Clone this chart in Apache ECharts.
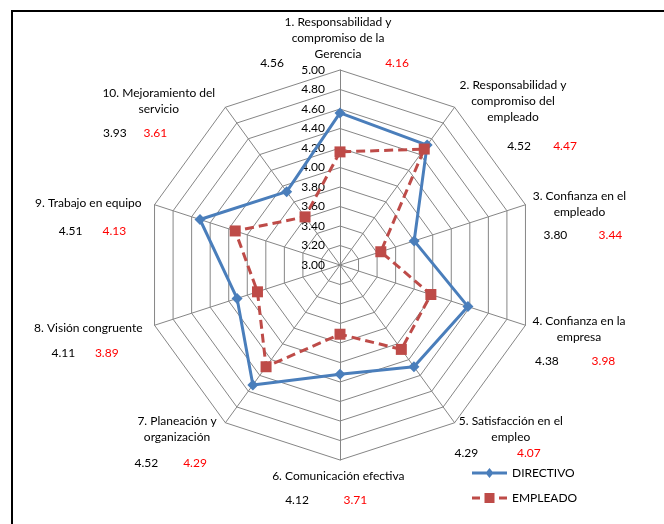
<!DOCTYPE html>
<html>
<head>
<meta charset="utf-8">
<script src="https://cdn.jsdelivr.net/npm/echarts@6/dist/echarts.min.js"></script>
<style>
  html, body { margin: 0; padding: 0; background: #ffffff; }
  #chart { width: 664px; height: 524px; }
</style>
</head>
<body>
<div id="chart"></div>
<script>
// Indicator labels (one per spoke, clockwise from the top)
const indicatorNames = [
  '1. Responsabilidad y\ncompromiso de la\nGerencia',
  '2. Responsabilidad y\ncompromiso del\nempleado',
  '3. Confianza en el\nempleado',
  '4. Confianza en la\nempresa',
  '5. Satisfacción en el\nempleo',
  '6. Comunicación efectiva',
  '7. Planeación y\norganización',
  '8. Visión congruente',
  '9. Trabajo en equipo',
  '10. Mejoramiento del\nservicio'
];

// Average scores per group
const directivo = [4.56, 4.52, 3.80, 4.38, 4.29, 4.12, 4.52, 4.11, 4.51, 3.93];
const empleado  = [4.16, 4.47, 3.44, 3.98, 4.07, 3.71, 4.29, 3.89, 4.13, 3.61];
const seriesNames = ['DIRECTIVO', 'EMPLEADO'];

// Scale of every spoke
const scaleMin = 3.0;
const scaleMax = 5.0;
const scaleSplits = 10;

// Label placement around each spoke end:
// [shiftX, shiftY, valueLineHeight, directivoOffsetX, empleadoOffsetX]
const labelLayout = [
  [-2, -30.5, 2, -66, 59],
  [58.4, 15.3, 42, 6, 52],
  [54, 14.3, 30.6, -24, 31],
  [53.5, 19.4, 32, -32, 24.5],
  [56.2, 14.8, 17.2, -44.5, 18],
  [-1.7, 32, 32.6, -41.3, 17],
  [-48.4, 24.2, 36, -30.7, 18],
  [-66.2, 19.4, 32.8, -25, 18.4],
  [-66.2, 18.7, 40.8, -17.8, 26],
  [-66.6, 10.1, 32, -44, -3.5]
];

const BLUE = '#4A7EBB';
const RED = '#BE4B48';
const FONT = 'Lato';

const rich = {
  n: { color: '#000', fontFamily: FONT, fontSize: 12, lineHeight: 16, align: 'center' }
};
const VALUE_W = 30;

function spacer(key, w) {
  rich[key] = { width: w, lineHeight: 1, fontSize: 12, fontFamily: FONT, align: 'center' };
  return '{' + key + '| }';
}

function buildLabel(idx) {
  const [dx, dy, lv, o1, o2] = labelLayout[idx];
  const sx = Math.abs(dx) > 0.5 ? spacer('sx' + idx, 2 * Math.abs(dx)) : '';
  const withShift = (s) => dx >= 0 ? sx + s : s + sx;

  const lines = indicatorNames[idx].split('\n').map(l => withShift('{n|' + l + '}'));

  const m = Math.max(Math.abs(o1), Math.abs(o2)) + VALUE_W / 2;
  const a = o1 - VALUE_W / 2 + m;
  const b = o2 - o1 - VALUE_W;
  const c = m - o2 - VALUE_W / 2;
  rich['d' + idx] = { color: '#000', fontFamily: FONT, fontSize: 12, lineHeight: lv, width: VALUE_W, align: 'center' };
  rich['e' + idx] = { color: '#FF0000', fontFamily: FONT, fontSize: 12, lineHeight: lv, width: VALUE_W, align: 'center' };
  let vline = '';
  if (a > 0.5) vline += spacer('va' + idx, a);
  vline += '{d' + idx + '|' + directivo[idx].toFixed(2) + '}';
  if (b > 0.5) vline += spacer('vb' + idx, b);
  vline += '{e' + idx + '|' + empleado[idx].toFixed(2) + '}';
  if (c > 0.5) vline += spacer('vc' + idx, c);
  lines.push(withShift(vline));

  if (Math.abs(dy) > 0.5) {
    rich['vs' + idx] = { lineHeight: 2 * Math.abs(dy), fontSize: 12, fontFamily: FONT, align: 'center' };
    const holder = '{vs' + idx + '| }';
    if (dy > 0) lines.unshift(holder); else lines.push(holder);
  }
  return lines.join('\n');
}

const labelTexts = indicatorNames.map((_, i) => buildLabel(i));

// ECharts lays spokes out counter-clockwise; walk the list backwards
// (after the first one) so the numbering runs clockwise.
const order = indicatorNames.map((_, i) => (indicatorNames.length - i) % indicatorNames.length);

const indicators = order.map((i, k) => {
  const ind = { name: indicatorNames[i], min: scaleMin, max: scaleMax };
  if (k === 0) {
    ind.nameMoveOverlap = false;
    ind.axisLabel = {
      show: true, color: '#000', fontFamily: FONT, fontSize: 12, margin: 15,
      formatter: v => Number(v).toFixed(2)
    };
  }
  return ind;
});

const chart = echarts.init(document.getElementById('chart'), null, { renderer: 'canvas' });

chart.setOption({
  backgroundColor: '#ffffff',
  animation: false,
  textStyle: { fontFamily: FONT },
  graphic: [{
    type: 'rect',
    shape: { x: 12, y: 11, width: 700, height: 600 },
    style: { fill: null, stroke: '#000', lineWidth: 2 },
    silent: true, z: -10
  }],
  legend: {
    orient: 'vertical',
    left: 467,
    top: 462,
    itemWidth: 35,
    itemHeight: 10,
    itemGap: 13,
    textStyle: { color: '#000', fontFamily: FONT, fontSize: 12 },
    data: [
      { name: seriesNames[0], icon: 'path://M0,3.5L35,3.5L35,6.5L0,6.5Z M17.5,0L21.5,5L17.5,10L13.5,5Z' },
      { name: seriesNames[1], icon: 'path://M0,3.5L8,3.5L8,6.5L0,6.5Z M12.5,0L22.5,0L22.5,10L12.5,10Z M27,3.5L35,3.5L35,6.5L27,6.5Z' }
    ]
  },
  radar: {
    center: [340, 265],
    radius: 195,
    startAngle: 90,
    shape: 'polygon',
    splitNumber: scaleSplits,
    nameGap: 0,
    indicator: indicators,
    axisName: {
      color: '#000',
      fontFamily: FONT,
      fontSize: 12,
      align: 'center',
      verticalAlign: 'middle',
      rich: rich,
      formatter: (name) => labelTexts[indicatorNames.indexOf(name)]
    },
    axisLine: { lineStyle: { color: '#868686', width: 1 } },
    splitLine: { lineStyle: { color: '#868686', width: 1 } },
    splitArea: { show: false },
    axisTick: { show: false },
    axisLabel: { show: false }
  },
  series: [{
    type: 'radar',
    data: [
      {
        name: seriesNames[0],
        value: order.map(i => directivo[i]),
        symbol: 'diamond',
        symbolSize: 11,
        lineStyle: { color: BLUE, width: 3 },
        itemStyle: { color: BLUE }
      },
      {
        name: seriesNames[1],
        value: order.map(i => empleado[i]),
        symbol: 'rect',
        symbolSize: 11,
        lineStyle: { color: RED, width: 3, type: [9, 5] },
        itemStyle: { color: RED }
      }
    ]
  }]
});
</script>
</body>
</html>
